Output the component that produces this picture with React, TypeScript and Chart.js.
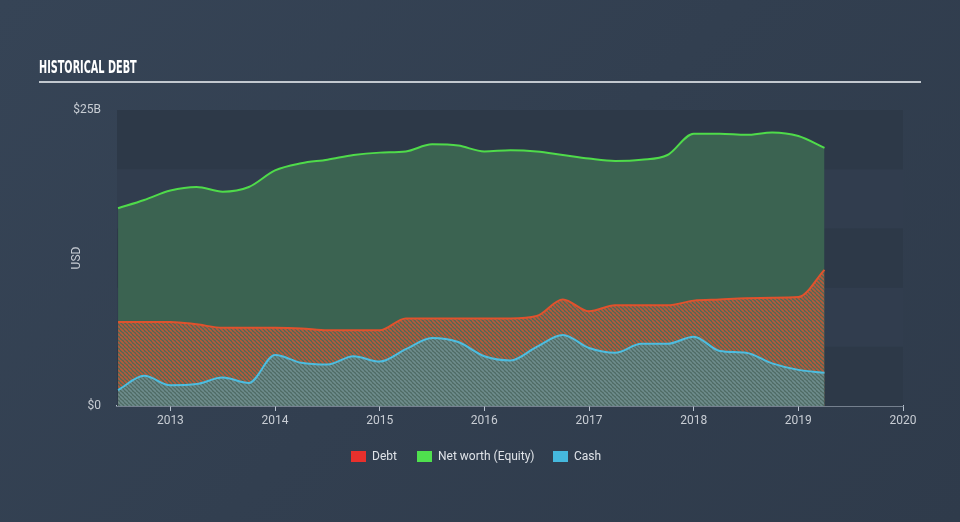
import React, { useEffect, useRef } from "react";
import { Chart, registerables } from "chart.js";

Chart.register(...registerables);

// Quarter-end dates as decimal years
const quarters: number[] = [
  2012.5, 2012.75, 2013, 2013.25, 2013.5, 2013.75, 2014, 2014.25, 2014.5, 2014.75,
  2015, 2015.25, 2015.5, 2015.75, 2016, 2016.25, 2016.5, 2016.75, 2017, 2017.25,
  2017.5, 2017.75, 2018, 2018.25, 2018.5, 2018.75, 2019, 2019.25,
];

// Values in $B
const debt: number[] = [
  7.1, 7.1, 7.1, 6.9, 6.6, 6.6, 6.6, 6.55, 6.4, 6.4,
  6.4, 7.4, 7.4, 7.4, 7.4, 7.4, 7.6, 9.0, 8.0, 8.5,
  8.5, 8.5, 8.9, 9.0, 9.1, 9.15, 9.2, 11.5,
];

const equity: number[] = [
  16.7, 17.4, 18.2, 18.5, 18.1, 18.5, 19.9, 20.5, 20.8, 21.2,
  21.4, 21.5, 22.1, 22.0, 21.5, 21.6, 21.5, 21.2, 20.9, 20.7,
  20.8, 21.2, 23.0, 23.0, 22.9, 23.1, 22.8, 21.8,
];

const cash: number[] = [
  1.35, 2.55, 1.75, 1.85, 2.4, 1.95, 4.3, 3.65, 3.5, 4.2,
  3.75, 4.8, 5.75, 5.4, 4.2, 3.85, 5.0, 6.0, 4.9, 4.5,
  5.25, 5.25, 5.85, 4.65, 4.5, 3.6, 3.05, 2.8,
];

const xTicks: number[] = [2013, 2014, 2015, 2016, 2017, 2018, 2019, 2020];
const yTickLabels: Record<number, string> = { 0: "$0", 25: "$25B" };
const bandEdges: number[] = [0, 5, 10, 15, 20, 25];

function makePattern(bg: string, stripe: string, size: number, width: number) {
  const c = document.createElement("canvas");
  c.width = size;
  c.height = size;
  const ctx = c.getContext("2d")!;
  ctx.fillStyle = bg;
  ctx.fillRect(0, 0, size, size);
  ctx.strokeStyle = stripe;
  ctx.lineWidth = width;
  ctx.beginPath();
  for (let k = -1; k <= 1; k++) {
    ctx.moveTo(k * size, 0);
    ctx.lineTo(k * size + size, size);
  }
  ctx.stroke();
  return ctx.createPattern(c, "repeat")!;
}

const bandsPlugin = {
  id: "bands",
  beforeDatasetsDraw(chart: any) {
    const { ctx, chartArea, scales } = chart;
    const y = scales.y;
    ctx.save();
    for (let i = 0; i < bandEdges.length - 1; i++) {
      const top = y.getPixelForValue(bandEdges[i + 1]);
      const bottom = y.getPixelForValue(bandEdges[i]);
      ctx.fillStyle = i % 2 === 0 ? "#2d3948" : "#313d4e";
      ctx.fillRect(chartArea.left, top, chartArea.right - chartArea.left, bottom - top);
    }
    ctx.restore();
  },
};

export default function App() {
  const ref = useRef<HTMLCanvasElement>(null);

  useEffect(() => {
    document.body.style.margin = "0";
    const debtPattern = makePattern("#4e6a57", "#b8593a", 4, 1.6);
    const cashPattern = makePattern("#4f6b64", "#6e8c8c", 4, 1.6);
    const chart = new Chart(ref.current!, {
      type: "line",
      data: {
        datasets: [
          {
            label: "Debt",
            data: quarters.map((q, i) => ({ x: q, y: debt[i] })),
            borderColor: "#e0522d",
            backgroundColor: debtPattern,
            borderWidth: 2,
            fill: "origin",
            pointRadius: 0,
            cubicInterpolationMode: "monotone",
            order: 1,
          },
          {
            label: "Net worth (Equity)",
            data: quarters.map((q, i) => ({ x: q, y: equity[i] })),
            borderColor: "#4fdb4a",
            backgroundColor: "#3b6351",
            borderWidth: 2,
            fill: "origin",
            pointRadius: 0,
            cubicInterpolationMode: "monotone",
            order: 2,
          },
          {
            label: "Cash",
            data: quarters.map((q, i) => ({ x: q, y: cash[i] })),
            borderColor: "#4cbde0",
            backgroundColor: cashPattern,
            borderWidth: 2,
            fill: "origin",
            pointRadius: 0,
            cubicInterpolationMode: "monotone",
            order: 0,
          },
        ],
      },
      options: {
        animation: false,
        responsive: false,
        maintainAspectRatio: false,
        layout: { padding: { left: 66, right: 57, top: 110, bottom: 86 } },
        plugins: { legend: { display: false }, tooltip: { enabled: false } },
        scales: {
          x: {
            type: "linear",
            min: 2012.49,
            max: 2020,
            afterBuildTicks: (s: any) => {
              s.ticks = xTicks.map((v) => ({ value: v }));
            },
            afterFit: (s: any) => {
              s.height = 30;
            },
            grid: {
              drawOnChartArea: false,
              drawTicks: true,
              tickLength: 5,
              color: "#b9c3cf",
            },
            border: { display: true, color: "#b9c3cf", width: 1.5 },
            ticks: {
              color: "#c8cdd4",
              font: { family: "Roboto", size: 12 },
              padding: 3,
              maxRotation: 0,
              autoSkip: false,
              callback: (v: any) => String(v),
            },
          },
          y: {
            min: 0,
            max: 25,
            afterFit: (s: any) => {
              s.width = 51;
            },
            grid: { display: false, drawTicks: false },
            border: { display: false },
            ticks: {
              stepSize: 5,
              color: "#c8cdd4",
              font: { family: "Roboto", size: 12 },
              padding: 16,
              callback: (v: any) => yTickLabels[v] ?? "",
            },
            title: {
              display: true,
              text: "USD",
              color: "#c8cdd4",
              font: { family: "Roboto", size: 12 },
              padding: { top: 4, bottom: 4 },
            },
          },
        },
      },
      plugins: [bandsPlugin],
    });
    return () => chart.destroy();
  }, []);

  const legendItems = [
    { label: "Debt", color: "#e8302c", left: 351 },
    { label: "Net worth (Equity)", color: "#4fe04e", left: 417 },
    { label: "Cash", color: "#45b8dd", left: 553 },
  ];

  return (
    <div
      style={{
        position: "absolute",
        left: 0,
        top: 0,
        width: 960,
        height: 522,
        background: "linear-gradient(135deg, #364456 0%, #323f50 50%, #2f3b4b 100%)",
        overflow: "hidden",
        fontFamily: "Roboto, sans-serif",
      }}
    >
      <canvas ref={ref} width={960} height={522} style={{ position: "absolute", left: 0, top: 0 }} />
      <div
        style={{
          position: "absolute",
          left: 39,
          top: 56,
          color: "#ffffff",
          fontFamily: "'DejaVu Sans Condensed', 'DejaVu Sans', sans-serif",
          fontWeight: "bold",
          fontSize: 18,
          lineHeight: "22px",
          whiteSpace: "nowrap",
          transform: "scaleX(0.6)",
          transformOrigin: "left top",
        }}
      >
        HISTORICAL DEBT
      </div>
      <div
        style={{
          position: "absolute",
          left: 39,
          top: 81,
          width: 882,
          height: 2,
          background: "#c2c8cf",
        }}
      />
      {legendItems.map((it) => (
        <div
          key={it.label}
          style={{
            position: "absolute",
            left: it.left,
            top: 449,
            display: "flex",
            alignItems: "center",
            whiteSpace: "nowrap",
            color: "#dfe3e8",
            fontSize: 12,
            lineHeight: "14px",
          }}
        >
          <span
            style={{
              display: "inline-block",
              width: 15,
              height: 11,
              background: it.color,
              marginRight: 6,
            }}
          />
          {it.label}
        </div>
      ))}
    </div>
  );
}
